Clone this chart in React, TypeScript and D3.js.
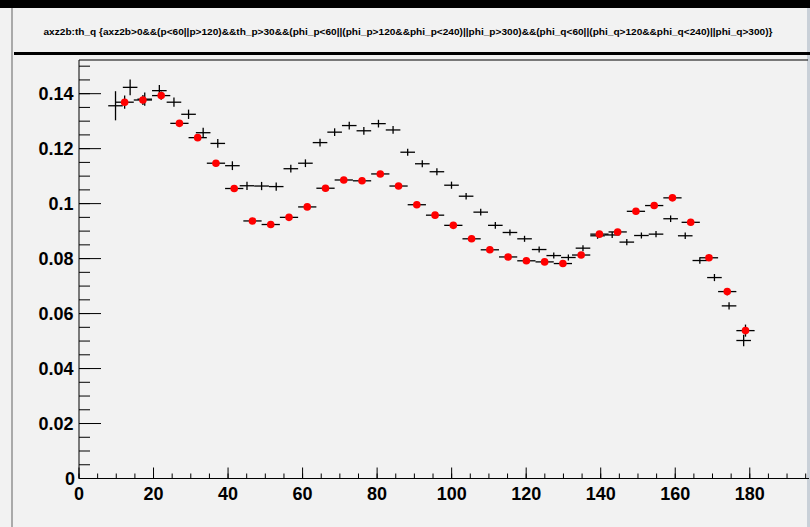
import React from "react";
import * as d3 from "d3";

const W = 810;
const H = 527;

const titleText =
  "axz2b:th_q {axz2b>0&&(p<60||p>120)&&th_p>30&&(phi_p<60||(phi_p>120&&phi_p<240)||phi_p>300)&&(phi_q<60||(phi_q>120&&phi_q<240)||phi_q>300)}";

const xMin = 0;
const xMax = 196;
const blackBins = 50;
const redBins = 40;
const firstBin = 2;

const xTicks = [0, 20, 40, 60, 80, 100, 120, 140, 160, 180];
const yTicks = [0, 0.02, 0.04, 0.06, 0.08, 0.1, 0.12, 0.14];
const yTickLabels = ["0", "0.02", "0.04", "0.06", "0.08", "0.1", "0.12", "0.14"];

// black histogram (50 bins over 0..196), bins 2..45
const blackValues = [
  0.1356, 0.1423, 0.138, 0.1411, 0.1369, 0.1325, 0.1258, 0.1219, 0.1138, 0.1065,
  0.1064, 0.1062, 0.1127, 0.1147, 0.1222, 0.126, 0.1284, 0.1265, 0.1291, 0.1268,
  0.1187, 0.1145, 0.1116, 0.1067, 0.1027, 0.0969, 0.0921, 0.0895, 0.0872, 0.0833,
  0.0811, 0.0804, 0.0838, 0.0883, 0.0886, 0.086, 0.0884, 0.0889, 0.0945, 0.0883,
  0.0793, 0.0731, 0.0628, 0.0502,
];
const blackErrors = [
  0.0053, 0.0029, 0.0024, 0.0021, 0.0017, 0.0017, 0.0018, 0.0016, 0.0016, 0.0015,
  0.0015, 0.0015, 0.0014, 0.0014, 0.0014, 0.0014, 0.0014, 0.0014, 0.0014, 0.0014,
  0.0013, 0.0013, 0.0013, 0.0013, 0.0012, 0.0012, 0.0012, 0.0011, 0.0011, 0.0011,
  0.0011, 0.0011, 0.0011, 0.0011, 0.0011, 0.0011, 0.0011, 0.0011, 0.0012, 0.0012,
  0.0012, 0.0013, 0.0013, 0.0021,
];

// red histogram (40 bins over 0..196), bins 2..36
const redValues = [
  0.1369, 0.1377, 0.1393, 0.1292, 0.124, 0.1147, 0.1055, 0.0937, 0.0924, 0.095,
  0.0988, 0.1056, 0.1086, 0.1083, 0.1108, 0.1064, 0.0996, 0.0958, 0.0921, 0.0872,
  0.0832, 0.0806, 0.0792, 0.0788, 0.0782, 0.0813, 0.0889, 0.0897, 0.0972, 0.0993,
  0.1021, 0.0932, 0.0803, 0.068, 0.0538,
];
const redErrors = [
  0.0024, 0.0018, 0.0015, 0.0012, 0.0012, 0.0011, 0.0011, 0.0011, 0.0011, 0.0011,
  0.0011, 0.0011, 0.0011, 0.0011, 0.0011, 0.0011, 0.0011, 0.0011, 0.0011, 0.0011,
  0.0011, 0.0011, 0.0011, 0.0011, 0.0011, 0.0011, 0.0011, 0.0011, 0.0011, 0.0011,
  0.0011, 0.0012, 0.0012, 0.0013, 0.0022,
];

const FONT = "'Liberation Sans', Arial, Helvetica, sans-serif";

export default function App() {
  const x = d3.scaleLinear().domain([xMin, xMax]).range([79, 809.4]);
  const y = d3.scaleLinear().domain([0, 0.15225]).range([478.5, 60]);

  const bwB = (xMax - xMin) / blackBins;
  const bwR = (xMax - xMin) / redBins;

  const blackPts = blackValues.map((v, i) => {
    const k = firstBin + i;
    return { lo: xMin + k * bwB, hi: xMin + (k + 1) * bwB, c: xMin + (k + 0.5) * bwB, v, e: blackErrors[i] };
  });
  const redPts = redValues.map((v, i) => {
    const k = firstBin + i;
    return { lo: xMin + k * bwR, hi: xMin + (k + 1) * bwR, c: xMin + (k + 0.5) * bwR, v, e: redErrors[i] };
  });

  const yMinor = d3.range(0, 0.1521, 0.005);
  const xMinor = d3.range(0, 196.01, 5);

  const x0 = x(0);
  const y0 = y(0);

  return (
    <svg width={W} height={H} style={{ position: "fixed", left: 0, top: 0 }} xmlns="http://www.w3.org/2000/svg">
      <rect x={0} y={0} width={W} height={H} fill="#f2f2f2" />
      <rect x={0} y={0} width={W} height={8} fill="#000" />
      <rect x={11} y={8} width={2} height={H - 8} fill="#aaaaaa" />
      <rect x={807} y={8} width={3} height={H - 8} fill="#c9d0d8" />
      {/* title */}
      <rect x={14} y={52} width={W - 14} height={3} fill="#000" />
      <text
        x={408}
        y={35}
        fontFamily={FONT}
        fontSize={9.5}
        fontWeight="bold"
        textAnchor="middle"
        textLength={729}
        lengthAdjust="spacingAndGlyphs"
        fill="#000"
      >
        {titleText}
      </text>
      {/* frame */}
      <line x1={x0} x2={808} y1={60} y2={60} stroke="#000" strokeWidth={1} />
      <line x1={x0} x2={x0} y1={60} y2={y0} stroke="#000" strokeWidth={1} />
      <line x1={x0} x2={809} y1={y0} y2={y0} stroke="#000" strokeWidth={1} />
      {/* y ticks */}
      {yMinor.map((t, i) => (
        <line key={"ym" + i} x1={x0} x2={x0 + 11} y1={y(t)} y2={y(t)} stroke="#000" strokeWidth={1} />
      ))}
      {yTicks.map((t, i) => (
        <g key={"yt" + i}>
          <line x1={x0} x2={x0 + 22} y1={y(t)} y2={y(t)} stroke="#000" strokeWidth={1} />
          <text
            x={i === 0 ? 75 : 73.5}
            y={y(t) + 6.5}
            fontFamily={FONT}
            fontWeight="bold"
            fontSize={18}
            textAnchor="end"
            fill="#000"
          >
            {yTickLabels[i]}
          </text>
        </g>
      ))}
      {/* x ticks */}
      {xMinor.map((t, i) => (
        <line key={"xm" + i} x1={x(t)} x2={x(t)} y1={y0} y2={y0 - 5} stroke="#000" strokeWidth={1} />
      ))}
      {xTicks.map((t, i) => (
        <g key={"xt" + i}>
          <line x1={x(t)} x2={x(t)} y1={y0} y2={y0 - 11} stroke="#000" strokeWidth={1} />
          <text
            x={x(t)}
            y={500}
            fontFamily={FONT}
            fontWeight="bold"
            fontSize={18}
            textAnchor="middle"
            fill="#000"
          >
            {String(t)}
          </text>
        </g>
      ))}
      {/* black histogram */}
      {blackPts.map((p, i) => (
        <g key={"b" + i} stroke="#000" strokeWidth={1.3}>
          <line x1={x(p.lo)} x2={x(p.hi)} y1={y(p.v)} y2={y(p.v)} />
          <line x1={x(p.c)} x2={x(p.c)} y1={y(p.v - p.e)} y2={y(p.v + p.e)} />
        </g>
      ))}
      {/* red histogram */}
      {redPts.map((p, i) => (
        <g key={"r" + i}>
          <line x1={x(p.lo)} x2={x(p.hi)} y1={y(p.v)} y2={y(p.v)} stroke="#000" strokeWidth={1.3} />
          <line x1={x(p.c)} x2={x(p.c)} y1={y(p.v - p.e)} y2={y(p.v + p.e)} stroke="#000" strokeWidth={1.3} />
          <circle cx={x(p.c)} cy={y(p.v)} r={3.8} fill="#ff0000" />
        </g>
      ))}
    </svg>
  );
}
